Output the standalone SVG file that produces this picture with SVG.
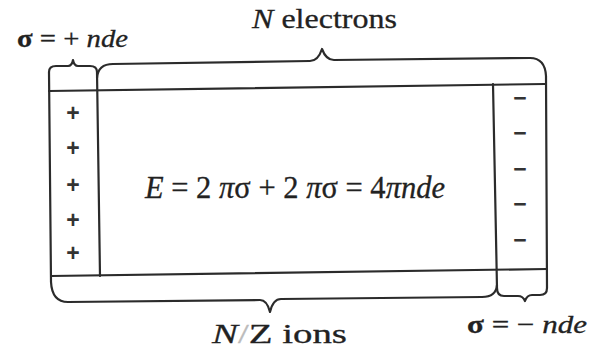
<svg xmlns="http://www.w3.org/2000/svg" width="591" height="356" viewBox="0 0 591 356">
<style>
.ln{fill:none;stroke:#2b2b2b;stroke-width:2.2;stroke-linecap:round;stroke-linejoin:round}
.tx{font-family:"Liberation Serif","Times New Roman",serif;fill:#222;stroke:#222;stroke-width:0.3}
.i{font-style:italic}
.sg{font-family:"Liberation Sans",Arial,sans-serif;font-weight:bold;fill:#333;font-size:23px;text-anchor:middle}
</style>
<rect width="591" height="356" fill="#fff"/>
<g id="connectors">
<path class="ln" d="M49,91 L545,84"/>
<path class="ln" d="M51,276 L547,269"/>
<path class="ln" d="M49,72 L51,282"/>
<path class="ln" d="M97,72 L100,276"/>
<path class="ln" d="M493,84 L497,288"/>
<path class="ln" d="M546,76 L547,288"/>
</g>
<g id="brace-top-small"><path class="ln" d="M49,72 Q49,66 56,66 L68,66 Q72,66 73,60 Q74,66 78,66 L90,66 Q97,66 97,72"/></g>
<g id="brace-top-large"><path class="ln" d="M97,78 Q98,64 113,64 L310,61 Q318,61 322,49 Q326,60 334,60 L530,58 Q545,58 546,76"/></g>
<g id="brace-bottom-large"><path class="ln" d="M51,282 Q52,302 68,302 L260,300 Q267,300 270,312 Q273,299 281,299 L482,297 Q496,297 497,285"/></g>
<g id="brace-bottom-small"><path class="ln" d="M497,288 Q497,296 504,296 L518,296 Q523,296 525,301 Q527,295 532,295 L540,295 Q547,295 547,288"/></g>
<g id="plus-charges">
<text class="sg" x="73" y="121">+</text>
<text class="sg" x="73" y="156">+</text>
<text class="sg" x="73" y="193">+</text>
<text class="sg" x="73" y="228">+</text>
<text class="sg" x="73" y="261">+</text>
</g>
<g id="minus-charges">
<text class="sg" x="520" y="106">−</text>
<text class="sg" x="520" y="141">−</text>
<text class="sg" x="520" y="177">−</text>
<text class="sg" x="520" y="212">−</text>
<text class="sg" x="520" y="248">−</text>
</g>
<g id="label-sigma-plus"><text class="tx" x="17" y="47" font-size="26" textLength="111" lengthAdjust="spacingAndGlyphs"><tspan font-weight="bold">σ</tspan> = + <tspan class="i">nde</tspan></text></g>
<g id="label-electrons"><text class="tx" x="252" y="28" font-size="28" textLength="145" lengthAdjust="spacingAndGlyphs"><tspan class="i">N</tspan> electrons</text></g>
<g id="equation"><text class="tx" x="145" y="198" font-size="31" textLength="300" lengthAdjust="spacingAndGlyphs"><tspan class="i">E</tspan> = 2 <tspan class="i">π</tspan>σ + 2 <tspan class="i">π</tspan>σ = 4<tspan class="i">πnde</tspan></text></g>
<g id="label-ions"><text class="tx" x="212" y="343" font-size="28" textLength="135" lengthAdjust="spacingAndGlyphs"><tspan class="i">N</tspan><tspan fill="#bbb" stroke="#bbb">/</tspan>Z ions</text></g>
<g id="label-sigma-minus"><text class="tx" x="467" y="333" font-size="26" textLength="120" lengthAdjust="spacingAndGlyphs"><tspan font-weight="bold">σ</tspan> = − <tspan class="i">nde</tspan></text></g>
</svg>
